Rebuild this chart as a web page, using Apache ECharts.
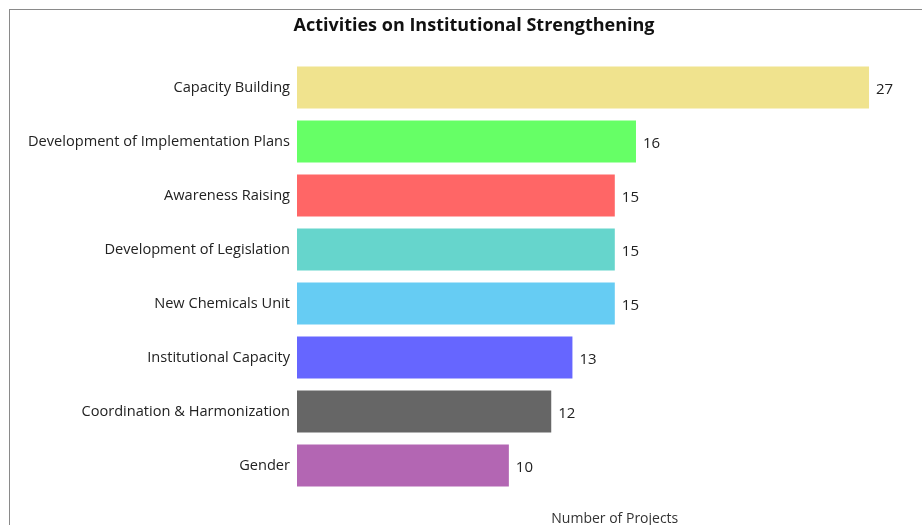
<!DOCTYPE html>
<html>
<head>
<meta charset="utf-8">
<title>Activities on Institutional Strengthening</title>
<script src="https://cdn.jsdelivr.net/npm/echarts@6/dist/echarts.min.js"></script>
<style>
  html, body { margin: 0; padding: 0; background: #fff; overflow: hidden; width: 922px; height: 525px; }
  #frame {
    position: absolute; left: 9px; top: 9px; width: 1000px; height: 600px;
    border-left: 1px solid #8a8a8a; border-top: 1px solid #8a8a8a;
  }
  #chart { position: absolute; left: 0; top: 0; width: 960px; height: 525px; }
</style>
</head>
<body>
<div id="frame"></div>
<div id="chart"></div>
<script>
// Activity categories, top to bottom
const categories = [
  'Capacity Building',
  'Development of Implementation Plans',
  'Awareness Raising',
  'Development of Legislation',
  'New Chemicals Unit',
  'Institutional Capacity',
  'Coordination & Harmonization',
  'Gender'
];

// Number of projects per activity
const projectCounts = [27, 16, 15, 15, 15, 13, 12, 10];

// Bar fill per activity
const barColors = [
  '#F0E38E', '#66FF66', '#FF6666', '#66D5CC',
  '#66CCF3', '#6666FF', '#666666', '#B366B3'
];

const chart = echarts.init(document.getElementById('chart'), null, { renderer: 'canvas' });

const fontFamily = '"Open Sans", "Noto Sans", sans-serif';

chart.setOption({
  animation: false,
  backgroundColor: 'transparent',
  title: {
    text: 'Activities on Institutional Strengthening',
    left: 469,
    top: 12,
    textAlign: 'center',
    textStyle: { fontFamily, fontSize: 18, fontWeight: 'bold', color: '#111' }
  },
  grid: {
    left: 297, top: 60.5, width: 635.6, height: 432,
    containLabel: false,
    outerBoundsMode: 'none'
  },
  xAxis: {
    type: 'value',
    min: 0,
    max: 30,
    name: 'Number of Projects',
    nameLocation: 'middle',
    nameGap: 20,
    nameTextStyle: { fontFamily, fontSize: 14, color: '#333' },
    axisLine: { show: false },
    axisTick: { show: false },
    axisLabel: { show: false },
    splitLine: { show: false }
  },
  yAxis: {
    type: 'category',
    inverse: true,
    data: categories,
    axisLine: { show: false },
    axisTick: { show: false },
    axisLabel: { fontFamily, fontSize: 14.6, color: '#222', margin: 7, padding: [2, 0, 0, 0] }
  },
  series: [{
    type: 'bar',
    data: projectCounts.map((v, i) => ({ value: v, itemStyle: { color: barColors[i] } })),
    barCategoryGap: '22%',
    label: {
      show: true,
      position: 'right',
      distance: 7,
      offset: [0, 2],
      fontFamily,
      fontSize: 15,
      color: '#222'
    }
  }]
});
</script>
</body>
</html>
